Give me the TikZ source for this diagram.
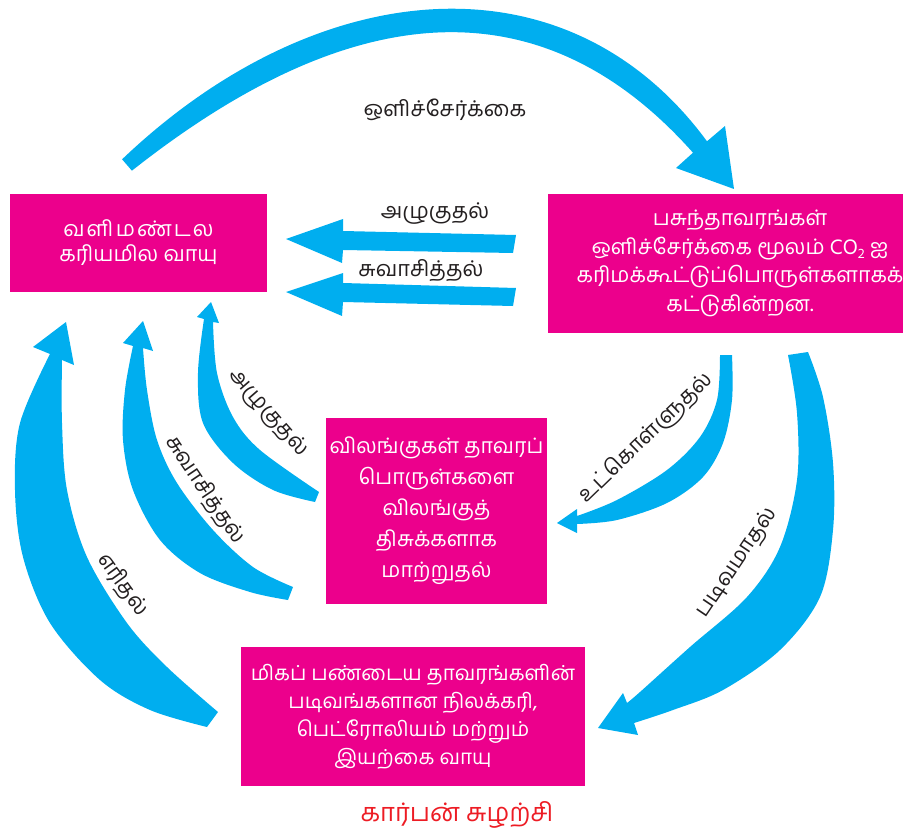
\documentclass[tikz,border=0pt]{standalone}
\usepackage{fontspec}
\setmainfont{Hind Madurai}[Script=Tamil]
\definecolor{cyclemagenta}{RGB}{236,0,140}
\definecolor{flowcyan}{RGB}{0,174,239}
\definecolor{titlered}{RGB}{237,28,36}
\definecolor{inkblack}{RGB}{35,31,32}

\begin{document}
\begin{tikzpicture}[x=1pt,y=-1pt,
  box/.style={fill=cyclemagenta, text=white, align=center, inner sep=0pt},
  lbl/.style={text=inkblack, inner sep=1pt, font=\fontsize{21.7}{24}\selectfont},
  flow/.style={fill=flowcyan}]
\useasboundingbox (0,0) rectangle (903,832);
\clip (0,0) rectangle (903,832);

% ---- boxes ----
\node[box, minimum width=257pt, minimum height=98pt,
  font=\fontsize{21.5}{25}\selectfont] (atm) at (138.5,243)
  {வ\hspace{2pt}ளி\hspace{2pt}ம\hspace{2pt}ண்\hspace{2pt}ட\hspace{2pt}ல\\கரியமில வாயு};
\node[box, minimum width=384pt, minimum height=139pt,
  font=\fontsize{21.4}{28.5}\selectfont] (plants) at (740,263.5)
  {பசுந்தாவரங்கள்\\ஒளிச்சேர்க்கை மூலம் CO\raisebox{-0.35ex}{\fontsize{14}{14}\selectfont 2} ஐ\\கரிமக்கூட்டுப்பொருள்களாகக்\\கட்டுகின்றன.};
\node[box, minimum width=221pt, minimum height=186pt,
  font=\fontsize{21.3}{31}\selectfont] (animals) at (436.5,511)
  {விலங்குகள் தாவரப்\\பொருள்களை\\விலங்குத்\\திசுக்களாக\\மாற்றுதல்};
\node[box, minimum width=344pt, minimum height=139pt,
  font=\fontsize{20.7}{28}\selectfont] (fossil) at (413,716.5)
  {மிகப் பண்டைய தாவரங்களின்\\படிவங்களான நிலக்கரி,\\பெட்ரோலியம் மற்றும்\\இயற்கை வாயு};
\node[text=titlered, font=\fontsize{25.5}{30}\selectfont] (title) at (457,815)
  {கார்பன் சுழற்சி};

% ---- photosynthesis arc (slightly tapered band) ----
\fill[flow] (122.1,159.3) .. controls (315.6,-25.3) and (565.9,-50.4) .. (707,141.3)
  -- (725,126) -- (734,189) -- (676,168) -- (693,152.7)
  .. controls (534.9,-25.2) and (341.8,4.9) .. (131.9,170.7) -- cycle;

% ---- straight arrows to the atmosphere ----
\fill[flow] (516,235) -- (343,231) -- (343,219) -- (286,239) -- (342,263)
  -- (343,250) -- (513,253) -- cycle;
\fill[flow] (516,288) -- (343,283) -- (343,273) -- (286,292) -- (342,316)
  -- (343,302) -- (513,306) -- cycle;

% ---- burning ----
\fill[flow] (66,322) -- (33,347) -- (50,354)
  -- plot[smooth, tension=0.55] coordinates {(50,354) (20,423) (15,490) (23,557)
    (50,623) (100,680) (150,710) (207,727)}
  -- (218,712)
  -- plot[smooth, tension=0.55] coordinates {(218,712) (167,667) (127,623)
    (87,557) (67,490) (62,423) (62,360)}
  -- (74,365) -- cycle;

% ---- respiration ----
\fill[flow] (143,321) -- (123,343) -- (133,346)
  -- plot[smooth, tension=0.55] coordinates {(133,346) (125,390) (123,440)
    (133,490) (160,540) (200,573) (250,592) (288,600)}
  -- (293,587)
  -- plot[smooth, tension=0.55] coordinates {(293,587) (253,567) (213,530)
    (177,483) (157,440) (147,390) (143,348)}
  -- (153,351) -- cycle;

% ---- decay ----
\fill[flow] (211,302) -- (197,317) -- (204,319)
  -- plot[smooth, tension=0.55] coordinates {(204,319) (198,373) (203,423)
    (233,463) (273,490) (315,502)}
  -- (319,492)
  -- plot[smooth, tension=0.55] coordinates {(319,492) (260,450) (233,417)
    (217,373) (213,322)}
  -- (219,323) -- cycle;

% ---- feeding ----
\fill[flow] (720,355) -- (732,355)
  -- plot[smooth, tension=0.55] coordinates {(732,355) (732,400) (723,443)
    (703,477) (667,503) (617,520) (577,524)}
  -- (577,533) -- (557,523) -- (577,509) -- (577,516)
  -- plot[smooth, tension=0.55] coordinates {(577,516) (617,500) (667,470)
    (700,437) (717,400) (720,355)} -- cycle;

% ---- fossilisation ----
\fill[flow] (788,355) -- (808,352)
  -- plot[smooth, tension=0.55] coordinates {(808,352) (823,397) (833,463)
    (833,530) (820,597) (780,650) (723,690) (673,710) (634,723)}
  -- (638,735) -- (598,728) -- (623,693) -- (627,703)
  -- plot[smooth, tension=0.55] coordinates {(627,703) (640,692) (690,647)
    (747,597) (780,547) (797,480) (797,413) (788,355)} -- cycle;

% ---- labels ----
\node[lbl] (lphoto) at (445,110) {ஒளிச்சேர்க்கை};
\node[lbl] (ldecay) at (435,214) {அழுகுதல்};
\node[lbl] (lresp) at (421,271) {சுவாசித்தல்};
\node[lbl, rotate=-49] (ldecay2) at (268,413) {அழுகுதல்};
\node[lbl, rotate=-56] (lresp2) at (205,490) {சுவாசித்தல்};
\node[lbl, rotate=-54] (lburn) at (123,585) {எரிதல்};
\node[lbl, rotate=44] (lfeed) at (646,438) {உட்கொள்ளுதல்};
\node[lbl, rotate=56] (lfossil) at (737,563) {படிவமாதல்};
\end{tikzpicture}
\end{document}
